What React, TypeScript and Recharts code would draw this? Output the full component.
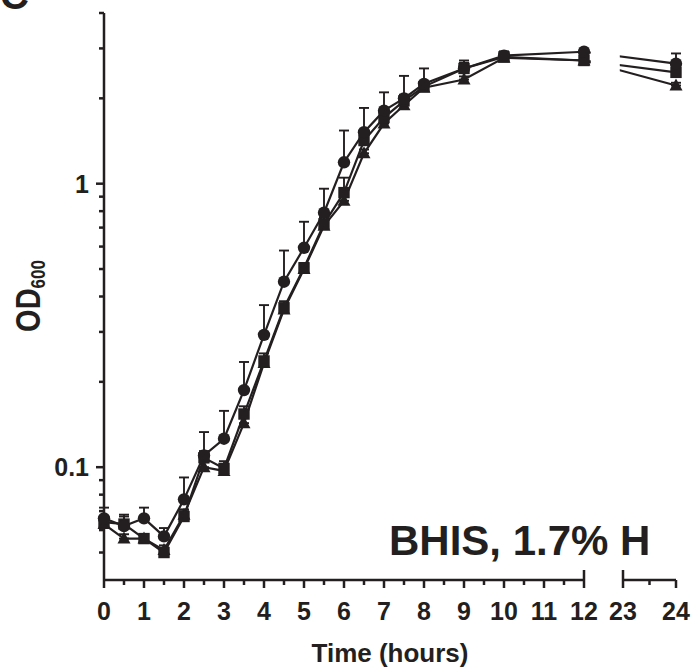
import React from 'react';
import { LineChart, Line, XAxis, YAxis, ErrorBar, ReferenceLine, ReferenceArea } from 'recharts';

const INK = '#231f20';
const FONT = '"Liberation Sans", Arial, Helvetica, sans-serif';

// sampling times (hours)
const times = [0, 0.5, 1, 1.5, 2, 2.5, 3, 3.5, 4, 4.5, 5, 5.5, 6, 6.5, 7, 7.5, 8, 9, 10, 12, 24];

// OD600 means and upper SD, one pair per strain
const circleOD = [0.066, 0.062, 0.066, 0.057, 0.077, 0.11, 0.126, 0.187, 0.293, 0.451, 0.594, 0.79, 1.19, 1.52, 1.81, 2.0, 2.25, 2.55, 2.83, 2.92, 2.65];
const circleSD = [0.006, 0.005, 0.006, 0.004, 0.015, 0.023, 0.032, 0.048, 0.08, 0.13, 0.14, 0.17, 0.35, 0.33, 0.29, 0.4, 0.3, 0.17, 0.1, 0.04, 0.23];
const squareOD = [0.064, 0.063, 0.056, 0.05, 0.067, 0.108, 0.099, 0.154, 0.237, 0.365, 0.505, 0.722, 0.93, 1.42, 1.71, 1.96, 2.2, 2.55, 2.8, 2.72, 2.47];
const squareSD = [0.003, 0.005, 0.002, 0.002, 0.003, 0.006, 0.006, 0.01, 0.015, 0.02, 0.02, 0.04, 0.12, 0.1, 0.1, 0.1, 0.08, 0.12, 0.08, 0.04, 0.1];
const triangleOD = [0.063, 0.056, 0.056, 0.051, 0.068, 0.1, 0.097, 0.143, 0.233, 0.36, 0.5, 0.71, 0.87, 1.28, 1.63, 1.89, 2.18, 2.33, 2.78, 2.72, 2.22];
const triangleSD = [0.002, 0.002, 0.002, 0.002, 0.003, 0.004, 0.004, 0.006, 0.01, 0.012, 0.015, 0.02, 0.03, 0.04, 0.04, 0.05, 0.05, 0.06, 0.05, 0.03, 0.05];

const xTickTimes = [0, 0.5, 1, 1.5, 2, 2.5, 3, 3.5, 4, 4.5, 5, 5.5, 6, 6.5, 7, 7.5, 8, 8.5, 9, 9.5, 10, 10.5, 11, 11.5, 12, 23, 23.5, 24];
const yTicks = [0.05, 0.06, 0.07, 0.08, 0.09, 0.1, 0.2, 0.3, 0.4, 0.5, 0.6, 0.7, 0.8, 0.9, 1, 2, 3, 4];
const yLabelled = [0.1, 1];

const Y_MIN = 0.04;
const Y_MAX = 4;

// broken x axis: 0-12 h, then 23-24 h drawn on a short segment
const BREAK_AT = 12;
const RIGHT_START = 12.975;
const RIGHT_SCALE = 1.325;
const X_MAX = RIGHT_START + RIGHT_SCALE;
const toAxis = (t: number) => (t <= BREAK_AT ? t : RIGHT_START + (t - 23) * RIGHT_SCALE);
const toTime = (m: number) => Math.round((m <= BREAK_AT + 0.5 ? m : 23 + (m - RIGHT_START) / RIGHT_SCALE) * 2) / 2;

const data = times.map((t, i) => ({
  x: toAxis(t),
  circle: circleOD[i],
  circleErr: [0, circleSD[i]],
  square: squareOD[i],
  squareErr: [0, squareSD[i]],
  triangle: triangleOD[i],
  triangleErr: [0, triangleSD[i]],
}));

const CircleDot = (p: any) =>
  p.cx == null ? null : <circle key={`c${p.index}`} cx={p.cx} cy={p.cy} r={6.2} fill={INK} />;
const SquareDot = (p: any) =>
  p.cx == null ? null : <rect key={`s${p.index}`} x={p.cx - 5.7} y={p.cy - 5.7} width={11.4} height={11.4} fill={INK} />;
const TriangleDot = (p: any) =>
  p.cx == null ? null : (
    <path key={`t${p.index}`} d={`M${p.cx},${p.cy - 7}L${p.cx + 6.5},${p.cy + 5}L${p.cx - 6.5},${p.cy + 5}Z`} fill={INK} />
  );

const XTick = (props: any) => {
  const { x, y, payload } = props;
  const t = toTime(payload.value);
  const major = Number.isInteger(t);
  const cap = t === 12 || t === 23;
  return (
    <g>
      <line x1={x} x2={x} y1={cap ? y - 10 : y} y2={y + (major ? 8 : 5)} stroke={INK} strokeWidth={2.5} />
      {major && (
        <text x={x} y={y + 40} textAnchor="middle" fontSize={25} fontWeight="bold" fill={INK} fontFamily={FONT}>
          {t}
        </text>
      )}
    </g>
  );
};

const YTick = (props: any) => {
  const { x, y, payload } = props;
  const major = yLabelled.includes(payload.value);
  return (
    <g>
      <line x1={x - (major ? 8 : 5)} x2={x} y1={y} y2={y} stroke={INK} strokeWidth={2.5} />
      {major && (
        <text x={x - 15} y={y + 9} textAnchor="end" fontSize={25} fontWeight="bold" fill={INK} fontFamily={FONT}>
          {payload.value}
        </text>
      )}
    </g>
  );
};

export default function App() {
  return (
    <div style={{ position: 'absolute', left: 0, top: 0, width: 696, height: 670, background: '#fff' }}>
      <LineChart width={696} height={670} data={data} margin={{ top: 13, right: 20, left: 0, bottom: 30 }}>
        <XAxis
          dataKey="x"
          type="number"
          domain={[0, X_MAX]}
          ticks={xTickTimes.map(toAxis)}
          interval={0}
          tick={<XTick />}
          tickLine={false}
          axisLine={false}
          tickSize={0}
          tickMargin={0}
          height={60}
        />
        <YAxis
          type="number"
          scale="log"
          domain={[Y_MIN, Y_MAX]}
          ticks={yTicks}
          interval={0}
          tick={<YTick />}
          tickLine={false}
          axisLine={{ stroke: INK, strokeWidth: 2.5 }}
          tickSize={0}
          tickMargin={0}
          width={104}
        />
        <Line dataKey="triangle" stroke={INK} strokeWidth={2.2} dot={TriangleDot} isAnimationActive={false} activeDot={false}>
          <ErrorBar dataKey="triangleErr" direction="y" width={5} stroke={INK} strokeWidth={1.9} />
        </Line>
        <Line dataKey="square" stroke={INK} strokeWidth={2.2} dot={SquareDot} isAnimationActive={false} activeDot={false}>
          <ErrorBar dataKey="squareErr" direction="y" width={5} stroke={INK} strokeWidth={1.9} />
        </Line>
        <Line dataKey="circle" stroke={INK} strokeWidth={2.2} dot={CircleDot} isAnimationActive={false} activeDot={false}>
          <ErrorBar dataKey="circleErr" direction="y" width={5} stroke={INK} strokeWidth={1.9} />
        </Line>
        <ReferenceArea
          x1={BREAK_AT + 0.17}
          x2={RIGHT_START - 0.08}
          y1={Y_MIN}
          y2={Y_MAX}
          fill="#fff"
          fillOpacity={1}
          stroke="none"
          ifOverflow="visible"
          zIndex={1500}
        />
        <ReferenceLine segment={[{ x: 0, y: Y_MIN }, { x: BREAK_AT, y: Y_MIN }]} stroke={INK} strokeWidth={2.5} />
        <ReferenceLine segment={[{ x: RIGHT_START, y: Y_MIN }, { x: X_MAX, y: Y_MIN }]} stroke={INK} strokeWidth={2.5} />
      </LineChart>
      <svg width={696} height={670} style={{ position: 'absolute', left: 0, top: 0, pointerEvents: 'none' }}>
        <text x={0} y={9} fontSize={40} fontWeight="bold" fill={INK} fontFamily={FONT}>C</text>
        <text x={389} y={555} fontSize={42} fontWeight="bold" fill={INK} fontFamily={FONT}>BHIS, 1.7% H</text>
        <text x={390} y={662} textAnchor="middle" fontSize={26} fontWeight="bold" fill={INK} fontFamily={FONT}>Time (hours)</text>
        <text
          transform="translate(40,296) rotate(-90) scale(1,1.2)"
          textAnchor="middle"
          fontSize={29}
          fontWeight="bold"
          fill={INK}
          fontFamily={FONT}
        >
          OD<tspan fontSize={17} dy={4}>600</tspan>
        </text>
      </svg>
    </div>
  );
}
